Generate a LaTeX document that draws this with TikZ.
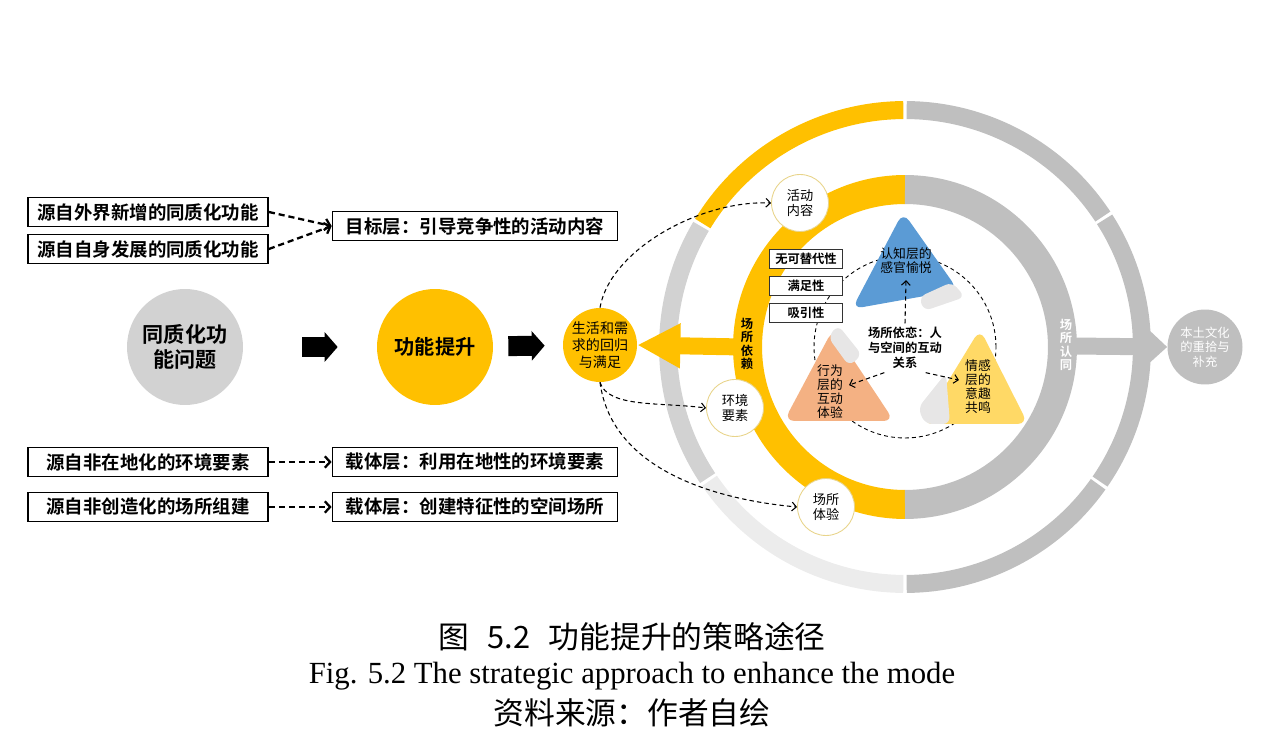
\documentclass[tikz,border=0pt]{standalone}
\usepackage{fontspec}
\setmainfont{Noto Sans CJK SC}[BoldFont={Noto Sans CJK SC Bold}]
\newfontfamily\capserif{Liberation Serif}
\usetikzlibrary{arrows.meta}
\definecolor{gold}{RGB}{255, 192, 0}
\definecolor{ringgray}{RGB}{191, 191, 191}
\definecolor{midgray}{RGB}{210, 210, 210}
\definecolor{palegray}{RGB}{236, 236, 236}
\definecolor{blobgray}{RGB}{231, 230, 230}
\definecolor{cogblue}{RGB}{91, 155, 213}
\definecolor{behorange}{RGB}{244, 177, 131}
\definecolor{emoyellow}{RGB}{255, 217, 102}
\definecolor{rimgold}{RGB}{232, 212, 138}
\tikzset{
  srcbox/.style={draw=black, line width=1pt, fill=white, minimum width=4.8cm, minimum height=0.58cm, inner sep=0pt, font=\fontsize{10.5}{12}\selectfont\bfseries},
  layerbox/.style={srcbox, minimum width=5.7cm},
  tagbox/.style={draw=black!80, line width=0.6pt, fill=white, minimum width=1.46cm, minimum height=0.38cm, inner sep=0pt, font=\fontsize{7}{8}\selectfont\bfseries},
  bigdot/.style={circle, minimum size=2.32cm, inner sep=0pt, align=center, font=\fontsize{12}{14.5}\selectfont\bfseries},
  stopdot/.style={circle, fill=white, draw=rimgold, line width=0.5pt, minimum size=1.14cm, inner sep=0pt, align=center, font=\fontsize{7.5}{9}\selectfont},
  layertext/.style={align=center, font=\fontsize{7.3}{8}\selectfont},
  ringtext/.style={align=center, inner sep=0pt, font=\fontsize{7}{7.6}\selectfont\bfseries},
  bolddash/.style={line width=1.3pt, dash pattern=on 3.5pt off 2.2pt, -{Straight Barb[length=3pt, width=6.5pt]}},
  thindash/.style={line width=0.6pt, dash pattern=on 2.5pt off 1.8pt, -{Straight Barb[length=2.5pt, width=5pt]}},
  ringdash/.style={line width=0.5pt, dash pattern=on 2.2pt off 1.8pt},
  blockarr/.style={line width=0.4cm, -{Triangle[length=0.26cm, width=0.58cm]}},
}
\begin{document}
\begin{tikzpicture}[x=0.02cm, y=-0.02cm]
\useasboundingbox (0,0) rectangle (1264,732);

\node[srcbox] (ext) at (148,212) {源自外界新增的同质化功能};
\node[srcbox] (own) at (148,249) {源自自身发展的同质化功能};
\node[layerbox] (goal) at (475,226) {目标层：引导竞争性的活动内容};
\node[srcbox] (nonlocal) at (148,462) {源自非在地化的环境要素};
\node[layerbox] (carrier) at (475,462) {载体层：利用在地性的环境要素};
\node[srcbox] (noncreate) at (148,507) {源自非创造化的场所组建};
\node[layerbox] (space) at (475,507) {载体层：创建特征性的空间场所};
\draw[bolddash] (ext.east) -- (goal.west);
\draw[bolddash] (own.east) -- (goal.west);
\draw[bolddash] (nonlocal) -- (carrier);
\draw[bolddash] (noncreate) -- (space);

\node[bigdot, fill=midgray] (problem) at (185,347) {同质化功\\能问题};
\node[bigdot, fill=gold, font=\fontsize{11.5}{14}\selectfont\bfseries] (boost) at (435,347) {功能提升};
\node[circle, fill=gold, minimum size=1.48cm, inner sep=0pt, align=center, font=\fontsize{8}{9.5}\selectfont] (life) at (600,345) {生活和需\\求的回归\\与满足};
\draw[blockarr, shorten <=1.18cm, shorten >=0.78cm] (problem) -- (boost);
\draw[blockarr, shorten <=0.3cm, shorten >=0.36cm] (boost) -- (life);

\coordinate (C) at (905,347);
\foreach \a/\b/\c in {90.4/148.6/gold, 149.4/213.6/midgray, 214.4/269.6/palegray, 270.4/324.6/ringgray, 325.4/392.6/ringgray, 393.4/449.6/ringgray}
  \draw[\c, line width=0.36cm] (C) ++(\a:4.74cm) arc[start angle=\a, end angle=\b, radius=4.74cm];
\draw[gold, line width=0.58cm] (C) ++(90:3.15cm) arc[start angle=90, end angle=270, radius=3.15cm];
\draw[ringgray, line width=0.58cm] (C) ++(270:3.15cm) arc[start angle=270, end angle=450, radius=3.15cm];

\coordinate (ringL) at (742,347);
\coordinate (ringR) at (1072,346);
\node[circle, fill=ringgray, minimum size=1.5cm, inner sep=0pt, align=center, text=white, font=\fontsize{7}{8.2}\selectfont] (native) at (1205,347) {本土文化\\的重拾与\\补充};
\draw[gold, line width=0.34cm, -{Triangle[length=0.86cm, width=0.84cm]}] (ringL) -- (life.east);
\draw[ringgray, line width=0.34cm, -{Triangle[length=0.36cm, width=0.64cm]}] (ringR) -- (native.west);

\node[ringtext] (depend) at (747,344) {场\\所\\依\\赖};
\node[ringtext, text=white] (identity) at (1066,345) {场\\所\\认\\同};

\node[stopdot] (activity) at (800,203) {活动\\内容};
\node[stopdot] (env) at (735,408) {环境\\要素};
\node[stopdot] (exper) at (826,507) {场所\\体验};
\draw[thindash] (life.north) .. controls (610,250) and (700,200) .. (activity.west);
\draw[thindash] (life.south) .. controls (608,408) and (660,402) .. (env.west);
\draw[thindash] (life.south) .. controls (612,472) and (720,500) .. (exper.west);

\draw[ringdash] (C) circle[radius=1.82cm];
\fill[cogblue, rounded corners=6pt] (903,212) -- (852,309) -- (958,290) -- cycle;
\fill[blobgray, rounded corners=4pt] (919,297) -- (952,282) -- (965,297) -- (924,311) -- cycle;
\fill[behorange, rounded corners=6pt] (833,329) -- (784,421) -- (894,421) -- cycle;
\fill[blobgray, rounded corners=4pt] (828,337) -- (838,325) -- (862,355) -- (849,366) -- cycle;
\fill[emoyellow, rounded corners=6pt] (980,329) -- (922,424) -- (1028,424) -- cycle;
\fill[blobgray, rounded corners=4pt] (946,373) -- (950,424) -- (925,424) -- (918,408) -- cycle;

\node[layertext] (cog) at (906,261) {认知层的\\感官愉悦};
\node[layertext] (beh) at (830,392) {行为\\层的\\互动\\体验};
\node[layertext] (emo) at (978,387) {情感\\层的\\意趣\\共鸣};
\node[align=center, inner sep=2pt, font=\fontsize{7}{8.5}\selectfont\bfseries] (attach) at (905,348) {场所依恋：人\\与空间的互动\\关系};
\draw[thindash] (attach.north) -- (cog.south);
\draw[thindash] (attach.230) -- (beh.20);
\draw[thindash] (attach.-50) -- (emo.160);

\node[tagbox] (irreplace) at (806,259) {无可替代性};
\node[tagbox] (satisfy) at (806,286) {满足性};
\node[tagbox] (attract) at (806,313) {吸引性};

\node[font=\fontsize{17.5}{20}\selectfont] (capzh) at (632,637) {图\hspace{0.6em}5.2\hspace{0.6em}功能提升的策略途径};
\node[font=\capserif\fontsize{17.5}{20}\selectfont] (capen) at (632,676) {Fig. 5.2 The strategic approach to enhance the mode};
\node[font=\fontsize{17.5}{20}\selectfont] (capsrc) at (632,713) {资料来源：作者自绘};
\end{tikzpicture}
\end{document}
